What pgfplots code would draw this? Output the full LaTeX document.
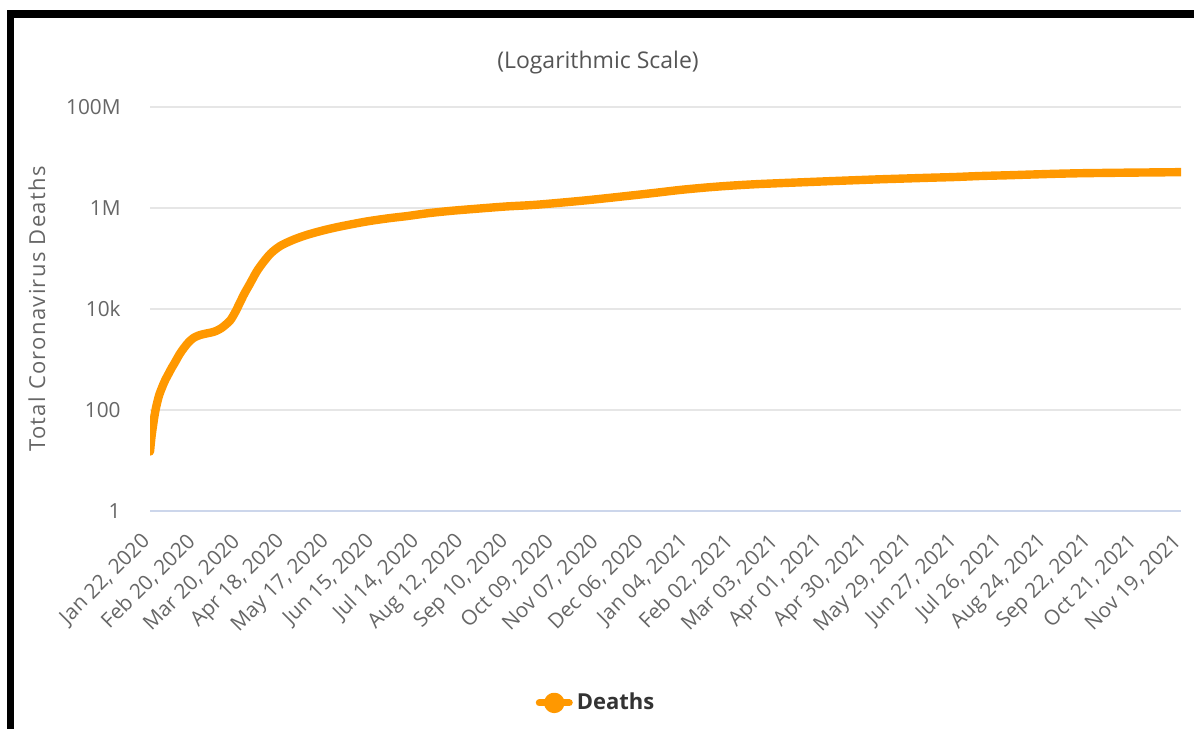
\documentclass[border=0pt]{standalone}
\usepackage{fontspec}
\setmainfont{Open Sans}
\newfontfamily\ylabfont[LetterSpace=6]{Open Sans}
\usepackage{pgfplots}
\pgfplotsset{compat=1.18}
\definecolor{lineor}{HTML}{FF9800}
\definecolor{gridc}{HTML}{E6E6E6}
\definecolor{axisc}{HTML}{CCD6EB}
\definecolor{tickc}{HTML}{666666}
\definecolor{titlec}{HTML}{555555}
\definecolor{legc}{HTML}{333333}
\begin{document}
\begin{tikzpicture}
\useasboundingbox (0,0) rectangle (597pt,364.5pt);
\fill[black] (3.5pt,355.5pt) rectangle (597pt,359.5pt);
\fill[black] (3.5pt,0pt) rectangle (7pt,359.5pt);
\node[text=titlec, font=\fontsize{11.5}{14}\selectfont] at (299pt,333pt) {(Logarithmic Scale)};
\begin{axis}[
  at={(75pt,109pt)}, anchor=south west,
  width=515.5pt, height=202pt, scale only axis,
  xmin=0, xmax=667, ymin=1, ymax=1e8, ymode=log,
  axis x line*=bottom, axis y line*=left,
  x axis line style={draw=axisc, line width=0.6pt, -},
  y axis line style={draw=none},
  major tick length=0pt, minor tick num=0,
  ymajorgrids, grid style={draw=gridc, line width=0.6pt},
  ytick={1,100,10000,1000000,100000000},
  yticklabels={1,100,10k,1M,100M},
  yticklabel style={font=\fontsize{10.4}{12}\selectfont, text=tickc, anchor=east, inner sep=0pt, xshift=-14.5pt},
  xtick={0,29,58,87,116,145,174,203,232,261,290,319,348,377,406,435,464,493,522,551,580,609,638,667},
  xticklabels={{Jan 22, 2020},{Feb 20, 2020},{Mar 20, 2020},{Apr 18, 2020},{May 17, 2020},{Jun 15, 2020},{Jul 14, 2020},{Aug 12, 2020},{Sep 10, 2020},{Oct 09, 2020},{Nov 07, 2020},{Dec 06, 2020},{Jan 04, 2021},{Feb 02, 2021},{Mar 03, 2021},{Apr 01, 2021},{Apr 30, 2021},{May 29, 2021},{Jun 27, 2021},{Jul 26, 2021},{Aug 24, 2021},{Sep 22, 2021},{Oct 21, 2021},{Nov 19, 2021}},
  xticklabel style={font=\fontsize{10.4}{12}\selectfont, text=tickc, xshift=-1.5pt, yshift=-13.5pt, rotate=45, anchor=east, inner sep=0pt},
  ylabel={Total Coronavirus Deaths},
  every axis y label/.style={at={(axis description cs:-0.1096,0.5)}, rotate=90, anchor=center,
    font=\ylabfont\fontsize{11}{13}\selectfont, text=tickc},
  legend style={at={(axis description cs:0.4336,-0.475)}, anchor=center, draw=none, fill=none,
    font=\fontsize{11}{13}\selectfont\bfseries, text=legc, legend cell align=left},
  legend image code/.code={\draw[line width=3.5pt, lineor] (0pt,0pt) -- (15pt,0pt); \fill[lineor] (7.5pt,0pt) circle (3pt);},
]
\addplot[lineor, line width=4.2pt, smooth, line join=round, line cap=round] coordinates {
(0,15) (1,30) (2,50) (3,80) (4,115) (5,155) (6,200) (8,290) (10,400) (12,520)
(14,680) (16,860) (19,1250) (22,1700) (25,2200) (28,2650) (31,2950) (34,3150)
(37,3300) (40,3450) (43,3700) (46,4150) (49,4900) (52,6000) (55,8500) (58,13000)
(61,20000) (65,33000) (69,55000) (73,82000) (78,125000) (84,175000) (92,230000)
(101,290000) (112,360000) (123,430000) (140,540000) (155,630000) (166,690000)
(180,790000) (195,880000) (210,960000) (230,1070000) (250,1160000) (278,1380000)
(295,1560000) (310,1750000) (327,2000000) (343,2280000) (360,2550000) (375,2760000)
(391,2950000) (407,3100000) (424,3250000) (440,3400000) (456,3550000) (472,3700000)
(490,3850000) (505,3980000) (520,4100000) (537,4300000) (555,4450000) (570,4600000)
(585,4750000) (602,4880000) (620,4960000) (635,5020000) (650,5070000) (667,5130000)
};
\addlegendentry{Deaths}
\end{axis}
\end{tikzpicture}
\end{document}
